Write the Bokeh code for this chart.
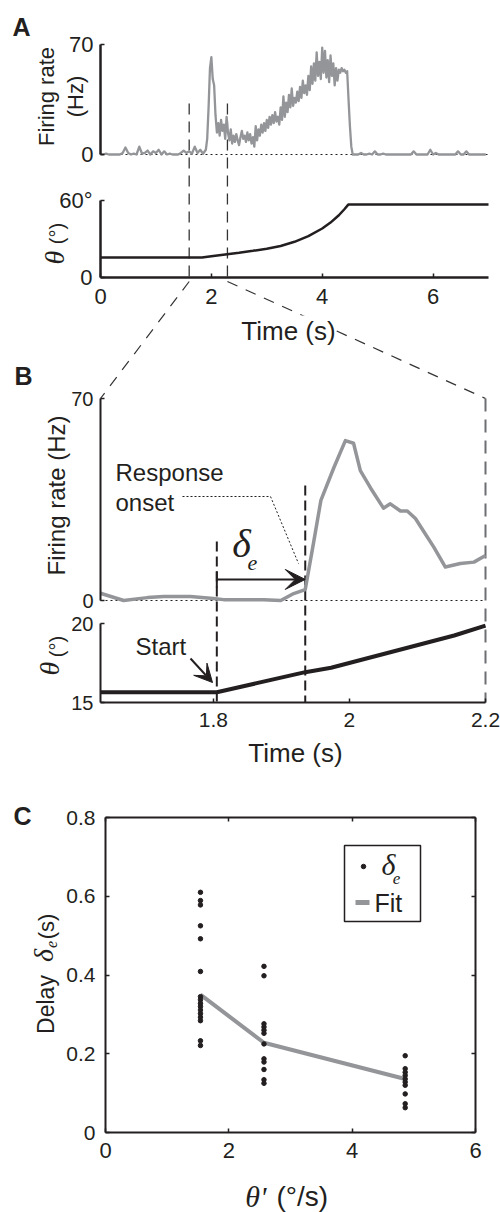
import numpy as np
from bokeh.plotting import figure
from bokeh.models import Range1d, LinearAxis, FixedTicker, Label, Arrow, VeeHead
from bokeh.embed import file_html
from bokeh.resources import INLINE

W, H = 500, 1212
INK = "#231f20"
TRACE = "#939598"
SANS = "Liberation Sans"
SERIF = "Liberation Serif"

# ---------------- data ----------------
# Panel A: firing rate (Hz) across the trial, three segments
rate_pre_hz = [0, 0, 0.5, 0, 0, 0, 0, 0, 1, 4.5,
               1, 0, 0.5, 0, 5, 0.5, 1, 2.5, 0, 2,
               1, 3, 0, 2, 0, 0.5, 0, 0, 0, 1,
               2.5, 1, 2, 0.5, 5, 1, 3, 0.5]
rate_pre_t = np.linspace(0.0, 1.85, len(rate_pre_hz))

rate_resp_hz = [3, 10, 30, 55, 62, 48, 44, 25, 14, 20,
                12, 22, 15, 19, 10, 24, 14, 9, 16, 7,
                12, 8, 13, 9, 6, 11, 15, 10, 12, 8,
                14, 9, 13, 7, 11, 5, 18, 9, 16, 12,
                19, 14, 20, 15, 22, 17, 24, 19, 25, 20,
                27, 21, 24, 19, 30, 22, 37, 24, 33, 27,
                38, 30, 42, 31, 36, 33, 40, 34, 43, 36,
                47, 39, 44, 38, 50, 41, 56, 45, 58, 47,
                65, 50, 59, 48, 68, 52, 66, 49, 60, 46,
                63, 50, 58, 44, 55, 47, 54, 52, 55, 53,
                54, 52, 53, 35, 18, 5, 0]
rate_resp_t = np.linspace(1.90, 4.55, len(rate_resp_hz))

rate_post_hz = [0, 0, 1, 0, 0, 0.5, 0, 2, 0, 0,
                0.5, 0, 0, 0, 0, 0, 0, 0, 0, 0,
                0, 2, 0, 0, 0, 0, 0, 3, 0, 1,
                0, 0, 0, 0, 0, 0, 0, 2, 0, 0,
                2, 0, 0, 0, 0, 0, 0, 0]
rate_post_t = np.linspace(4.60, 6.95, len(rate_post_hz))

a_rate_t = np.concatenate([rate_pre_t, rate_resp_t, rate_post_t])
a_rate_hz = rate_pre_hz + rate_resp_hz + rate_post_hz

# Panel A: stimulus angle (deg)
a_theta_t = [0, 1.83, 2.0, 2.25, 2.5, 2.75, 3.0, 3.25, 3.5, 3.75, 4.0, 4.15, 4.3, 4.4, 4.47, 7.0]
a_theta_deg = [15.5, 15.5, 16.5, 17.9, 19.3, 20.8, 22.4, 24.6, 27.8, 32.2, 38.2, 42.8, 48.5, 53.2, 56.8, 56.8]
a_zoom_marks = [1.6, 2.29]

# Panel B: close-up window
b_window = [1.634, 2.2]
b_rate_t = [1.634, 1.668, 1.703, 1.727, 1.766, 1.800, 1.815, 1.874, 1.899, 1.918,
            1.935, 1.947, 1.958, 1.977, 1.994, 2.006, 2.016, 2.031, 2.050, 2.060,
            2.075, 2.085, 2.097, 2.109, 2.124, 2.141, 2.163, 2.183, 2.200]
b_rate_hz = [2.5, 0, 1, 1.4, 1.4, 0.7, 0.3, 0.3, 0, 2.4,
             3.8, 19.7, 34.7, 46, 55.4, 54.5, 45, 39, 32, 33.5,
             31, 31, 28.4, 24, 18.5, 11.6, 12.8, 13.3, 15.6]
b_theta_t = [1.634, 1.805, 1.935, 1.973, 2.154, 2.2]
b_theta_deg = [15.65, 15.65, 16.92, 17.2, 19.24, 19.87]
t_start = 1.805
t_onset = 1.935
delta_arrow_hz = 7.3

# Panel C: delay vs angular speed
c_speeds = [1.54, 2.57, 4.86]
c_delays = [
    [0.610, 0.589, 0.578, 0.525, 0.492, 0.409, 0.345, 0.337, 0.328, 0.320,
     0.311, 0.302, 0.293, 0.284, 0.233, 0.221],
    [0.422, 0.398, 0.276, 0.268, 0.260, 0.252, 0.225, 0.187, 0.179, 0.160,
     0.134, 0.125],
    [0.195, 0.162, 0.153, 0.145, 0.136, 0.128, 0.120, 0.098, 0.073, 0.063],
]
c_fit = [0.35, 0.228, 0.136]

# ---------------- page layout (data value, pixel) pairs ----------------
A_X = (0, 100, 7, 488)
A1_Y = (0, 154, 70, 44)
A2_Y = (0, 277, 60, 200)
B_X = (b_window[0], 100, b_window[1], 485)
B1_Y = (0, 600, 70, 398)
B2_Y = (15, 702, 20, 623)
C_X = (0, 105, 6, 475)
C_Y = (0, 1132, 0.8, 817)


def xr(d0, p0, d1, p1):
    s = (d1 - d0) / (p1 - p0)
    return Range1d(d0 - p0 * s, d0 + (W - p0) * s)


def yr(d0, p0, d1, p1):
    s = (d1 - d0) / (p0 - p1)
    return Range1d(d0 - (H - p0) * s, d0 + p0 * s)


def px(d, d0, p0, d1, p1):
    return p0 + (d - d0) * (p1 - p0) / (d1 - d0)


p = figure(width=W, height=H, x_range=Range1d(0, W), y_range=Range1d(H, 0),
           x_axis_location=None, y_axis_location=None, toolbar_location=None,
           output_backend="svg", min_border=0, outline_line_color=None,
           background_fill_color="white", border_fill_color="white")
p.grid.visible = False
p.extra_x_ranges = {"ax": xr(*A_X), "bx": xr(*B_X), "cx": xr(*C_X)}
p.extra_y_ranges = {"a1": yr(*A1_Y), "a2": yr(*A2_Y), "b1": yr(*B1_Y),
                    "b2": yr(*B2_Y), "cy": yr(*C_Y)}


def axis(side, xname, yname, loc, bounds, ticks, overrides=None, size="21px",
         standoff=8, width=2, tick_in=4, hide=False):
    ax = LinearAxis(x_range_name=xname, y_range_name=yname, fixed_location=loc,
                    bounds=bounds, ticker=FixedTicker(ticks=ticks),
                    axis_line_color=INK, axis_line_width=width,
                    major_tick_in=tick_in, major_tick_out=0,
                    major_tick_line_color=INK, major_tick_line_width=1.5,
                    minor_tick_line_color=None,
                    major_label_text_font=SANS, major_label_text_font_size=size,
                    major_label_text_color=INK, major_label_standoff=standoff)
    if hide:
        ax.major_label_overrides = {t: "" for t in ticks}
    elif overrides:
        ax.major_label_overrides = overrides
    p.add_layout(ax, side)
    return ax


def text(x, y, s, size, font=SANS, style="normal", angle=0, align="center",
         baseline="middle", bg=None):
    lab = Label(x=x, y=y, text=s, text_font=font, text_font_size=f"{size}px",
                text_font_style=style, text_color=INK, angle=angle, angle_units="deg",
                text_align=align, text_baseline=baseline)
    if bg:
        lab.background_fill_color = bg
    p.add_layout(lab)


# ---------------- panel A ----------------
a_bottom_px = px(0, *A2_Y)
p.segment(x0=a_zoom_marks, y0=[103] * 2, x1=a_zoom_marks, y1=[a_bottom_px] * 2,
          x_range_name="ax", line_color="#333333", line_width=1.3, line_dash="11 7")
p.segment(x0=[0], y0=[0], x1=[7], y1=[0], x_range_name="ax", y_range_name="a1",
          line_color=INK, line_width=1, line_dash="2 3")
p.line(a_rate_t, a_rate_hz, x_range_name="ax", y_range_name="a1",
       line_color=TRACE, line_width=2.3, line_join="round")
p.line(a_theta_t, a_theta_deg, x_range_name="ax", y_range_name="a2",
       line_color=INK, line_width=2.5)

axis("left", "ax", "a1", 0, (0, 70), [0, 70], size="22px", standoff=7, width=2.5)
axis("left", "ax", "a2", 0, (0, 60), [0, 60], overrides={0: "0", 60: "60°"},
     size="22px", standoff=8, width=2.5)
axis("below", "ax", "a2", 0, (0, 7), [0, 2, 4, 6], size="22px", standoff=11, width=2.5)

# connectors from the marked window to panel B
b_left_px, b_right_px = px(b_window[0], *B_X), px(b_window[1], *B_X)
b_top_px = px(70, *B1_Y)
p.segment(x0=[px(a_zoom_marks[0], *A_X), px(a_zoom_marks[1], *A_X)], y0=[281, 281],
          x1=[b_left_px, b_right_px], y1=[b_top_px, b_top_px],
          line_color="#333333", line_width=1.2, line_dash="11 9")

text(12, 12, "A", 25, style="bold", align="left", baseline="top")
text(46, 96, "Firing rate", 22, angle=90)
text(75, 96, "(Hz)", 22, angle=90)
text(54, 257, "θ", 28, font=SERIF, style="italic", angle=90)
text(56, 233, "(°)", 20, angle=90)
text(288, 330, "Time (s)", 26, bg="white")

# ---------------- panel B ----------------
b_bottom_px = px(15, *B2_Y)
p.segment(x0=[t_start, t_onset], y0=[541, 485], x1=[t_start, t_onset],
          y1=[b_bottom_px, b_bottom_px], x_range_name="bx",
          line_color=INK, line_width=2, line_dash="10 5")
p.segment(x0=[b_window[1]], y0=[b_top_px], x1=[b_window[1]], y1=[b_bottom_px],
          x_range_name="bx", line_color="#6d6e71", line_width=2, line_dash="13 8")
p.segment(x0=[b_window[0]], y0=[0], x1=[b_window[1]], y1=[0], x_range_name="bx",
          y_range_name="b1", line_color=INK, line_width=1, line_dash="2 3")
p.line(b_rate_t, b_rate_hz, x_range_name="bx", y_range_name="b1",
       line_color=TRACE, line_width=3.5, line_join="round")
p.line(b_theta_t, b_theta_deg, x_range_name="bx", y_range_name="b2",
       line_color=INK, line_width=4, line_join="round")

axis("left", "bx", "b1", b_window[0], (0, 70), [0, 70], size="20px", standoff=7)
axis("left", "bx", "b2", b_window[0], (15, 20), [15, 20], size="20px", standoff=7)
axis("below", "bx", "b2", 15, tuple(b_window), [1.8, 2, 2.2],
     overrides={1.8: "1.8", 2: "2", 2.2: "2.2"}, size="21px", standoff=10)

# delay marker and arrow
p.segment(x0=[t_start], y0=[4.5], x1=[t_start], y1=[10.1], x_range_name="bx",
          y_range_name="b1", line_color=INK, line_width=2)
p.add_layout(Arrow(end=VeeHead(size=20, fill_color=INK, line_color=INK),
                   x_start=t_start, y_start=delta_arrow_hz, x_end=t_onset, y_end=delta_arrow_hz,
                   x_range_name="bx", y_range_name="b1", line_color=INK, line_width=2))
p.line(x=[182, 270, 298], y=[496, 496, 563], line_color=INK, line_width=1, line_dash="2 2")
p.add_layout(Arrow(end=VeeHead(size=18, fill_color=INK, line_color=INK),
                   x_start=190, y_start=658, x_end=212, y_end=682,
                   line_color=INK, line_width=2))

text(14, 361, "B", 25, style="bold", align="left", baseline="top")
text(56, 495, "Firing rate (Hz)", 24, angle=90)
text(49, 668, "θ", 28, font=SERIF, style="italic", angle=90)
text(56, 646, "(°)", 20, angle=90)
text(115, 472, "Response", 24, align="left")
text(115, 502, "onset", 24, align="left")
text(241, 543, "δ", 40, font=SERIF, style="italic")
text(252, 562, "e", 22, font=SERIF, style="italic")
text(135, 646, "Start", 24, align="left")
text(295, 752, "Time (s)", 26)

# ---------------- panel C ----------------
c_x = np.repeat(c_speeds, [len(g) for g in c_delays])
c_y = np.concatenate(c_delays)
p.line(c_speeds, c_fit, x_range_name="cx", y_range_name="cy",
       line_color=TRACE, line_width=4)
p.scatter(c_x, c_y, x_range_name="cx", y_range_name="cy", size=4.5,
          fill_color=INK, line_color=INK)

axis("left", "cx", "cy", 0, (0, 0.8), [0, 0.2, 0.4, 0.6, 0.8],
     overrides={0: "0", 0.2: "0.2", 0.4: "0.4", 0.6: "0.6", 0.8: "0.8"}, size="21px", standoff=10)
axis("right", "cx", "cy", 6, (0, 0.8), [0, 0.2, 0.4, 0.6, 0.8], hide=True)
axis("below", "cx", "cy", 0, (0, 6), [0, 2, 4, 6], size="22px", standoff=10)
axis("above", "cx", "cy", 0.8, (0, 6), [0, 2, 4, 6], hide=True)

# legend box
p.quad(left=[344], right=[420], top=[845], bottom=[921], fill_color="white",
       line_color=INK, line_width=1.5)
p.scatter([363], [866], size=4.5, fill_color=INK, line_color=INK)
p.segment(x0=[355], y0=[902], x1=[369], y1=[902], line_color=TRACE, line_width=5)
text(388, 864, "δ", 30, font=SERIF, style="italic")
text(396, 878, "e", 17, font=SERIF, style="italic")
text(374, 902, "Fit", 25, align="left")

text(13, 801, "C", 25, style="bold", align="left", baseline="top")
text(45, 1004, "Delay", 23, angle=90)
text(43, 955, "δ", 28, font=SERIF, style="italic", angle=90)
text(51, 944, "e", 16, font=SERIF, style="italic", angle=90)
text(46, 926, "(s)", 22, angle=90)
text(266, 1196, "θ'", 30, font=SERIF, style="italic", align="right")
text(276, 1196, "(°/s)", 28, align="left")

open("out.html", "w").write(file_html(p, INLINE))
